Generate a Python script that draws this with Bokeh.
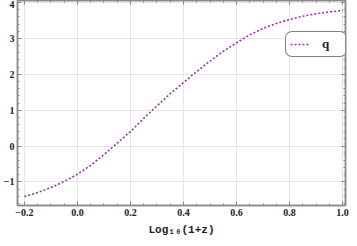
from bokeh.plotting import figure
from bokeh.models import LinearAxis, Range1d, Legend, LegendItem, FixedTicker, CustomJSTickFormatter, Grid
from bokeh.embed import file_html
from bokeh.resources import INLINE

# data
log1pz = [-0.2, -0.15, -0.1, -0.05, 0.0, 0.05, 0.1, 0.15, 0.2, 0.25, 0.3, 0.35, 0.4,
          0.45, 0.5, 0.55, 0.6, 0.65, 0.7, 0.75, 0.8, 0.85, 0.9, 0.95, 1.0]
q_vals = [-1.41, -1.30, -1.16, -0.99, -0.79, -0.54, -0.24, 0.08, 0.40, 0.77, 1.12, 1.46, 1.77,
          2.08, 2.37, 2.64, 2.88, 3.10, 3.28, 3.42, 3.53, 3.62, 3.69, 3.74, 3.78]
x_ticks = [-0.2, 0.0, 0.2, 0.4, 0.6, 0.8, 1.0]
y_ticks = [-1, 0, 1, 2, 3, 4]
x_label = "Log\u2081\u2080(1+z)"
series_name = "q"

FRAME = "#8a8a8a"
LINE = "#9b2fae"
SERIF = "'Liberation Serif'"
MONO = "'Liberation Mono'"

p = figure(width=349, height=238, output_backend="svg", toolbar_location=None,
           x_range=Range1d(-0.226, 1.011), y_range=Range1d(-1.66, 4.06),
           x_axis_location=None, y_axis_location=None,
           min_border_left=16, min_border_right=4, min_border_top=0, min_border_bottom=26)
p.outline_line_color = FRAME
p.outline_line_width = 1.5
p.background_fill_color = "white"

minor_x = [round(-0.2 + 0.05 * i, 2) for i in range(25)]
minor_y = [round(-1.6 + 0.2 * i, 2) for i in range(29)]

def mk(ticks, minor, labels=True):
    ax = LinearAxis(ticker=FixedTicker(ticks=ticks, minor_ticks=minor))
    ax.axis_line_color = FRAME
    ax.axis_line_width = 1.5
    ax.major_tick_line_color = FRAME
    ax.minor_tick_line_color = FRAME
    ax.major_tick_in = 4
    ax.major_tick_out = 0
    ax.minor_tick_in = 2
    ax.minor_tick_out = 0
    ax.major_label_text_font = SERIF
    ax.major_label_text_font_style = "bold"
    ax.major_label_text_font_size = "10px"
    ax.major_label_text_color = "#222222"
    ax.major_label_standoff = 3
    if not labels:
        ax.formatter = CustomJSTickFormatter(code="return '';")
        ax.major_label_standoff = 0
    return ax

xb = mk(x_ticks, minor_x)
xb.formatter = CustomJSTickFormatter(code="return (tick < 0 ? '\u2212' : '') + Math.abs(tick).toFixed(1);")
xb.axis_label = x_label
xb.axis_label_text_font = MONO
xb.axis_label_text_font_style = "bold"
xb.axis_label_text_font_size = "11px"
xb.axis_label_text_color = "#222222"
xb.axis_label_standoff = 5
yl = mk(y_ticks, minor_y)
yl.formatter = CustomJSTickFormatter(code="return (tick < 0 ? '\u2212' : '') + Math.abs(tick).toFixed(0);")
xt = mk(x_ticks, minor_x, labels=False)
yr = mk(y_ticks, minor_y, labels=False)
p.add_layout(xb, "below")
p.add_layout(yl, "left")
p.add_layout(xt, "above")
p.add_layout(yr, "right")

p.add_layout(Grid(dimension=0, ticker=xb.ticker, grid_line_color="#e6e6e6", grid_line_width=1))
p.add_layout(Grid(dimension=1, ticker=yl.ticker, grid_line_color="#e6e6e6", grid_line_width=1))

r = p.line(log1pz, q_vals, line_color=LINE, line_width=1.6, line_dash="2 2")

legend = Legend(items=[LegendItem(label=series_name, renderers=[r])], location=(268, 148))
legend.border_line_color = "black"
legend.border_line_width = 1.3
legend.border_radius = 7
legend.background_fill_color = "white"
legend.background_fill_alpha = 1
legend.label_text_font = SERIF
legend.label_text_font_style = "bold"
legend.label_text_font_size = "13px"
legend.label_text_color = "#222222"
legend.glyph_width = 20
legend.glyph_height = 12
legend.padding = 4
legend.margin = 0
legend.label_standoff = 12
legend.spacing = 0
p.add_layout(legend, "center")

open("out.html", "w").write(file_html(p, INLINE))
